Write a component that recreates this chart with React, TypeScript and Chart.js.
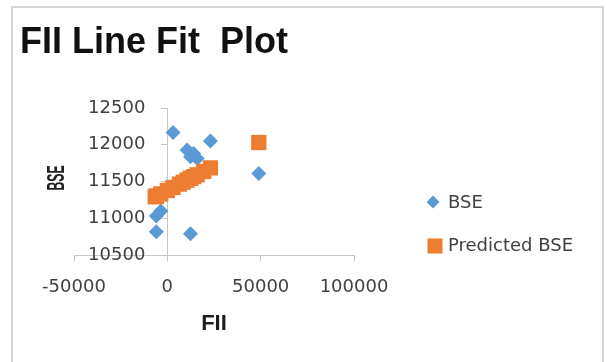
import React, { useEffect, useRef } from 'react';
import { Chart, registerables } from 'chart.js';

Chart.register(...registerables);

const chartTitle = 'FII Line Fit  Plot';
const xAxisTitle = 'FII';
const yAxisTitle = 'BSE';
const seriesNames = ['BSE', 'Predicted BSE'];

const fiiValues = [-6500, -5900, -5900, -3500, 0, 3060, 6500, 8500, 10600, 12400, 12400, 14100, 16000, 19500, 23100, 49000];
const bseValues = [11330, 10817, 11030, 11100, 11400, 12167, 11480, 11520, 11927, 10790, 11836, 11882, 11814, 11640, 12050, 11610];
const predictedBseValues = [11292, 11300, 11300, 11331, 11378, 11419, 11464, 11491, 11519, 11543, 11543, 11566, 11591, 11637, 11685, 12030];

const xTickValues = [-50000, 0, 50000, 100000];
const yTickValues = [10500, 11000, 11500, 12000, 12500];

const BLUE = '#5B9BD5';
const ORANGE = '#ED7D31';
const AXIS = '#c6c6c6';
const LABEL = '#404040';
const TICK_FONT = { family: '"DejaVu Sans", sans-serif', size: 18 };
const Y_LABEL_GAP = 22;

export default function App() {
  const ref = useRef<HTMLCanvasElement>(null);

  useEffect(() => {
    const canvas = ref.current;
    if (!canvas) return;

    const textPlugin = {
      id: 'texts',
      afterDraw(chart: any) {
        const ctx = chart.ctx as CanvasRenderingContext2D;
        ctx.save();
        // chart title
        ctx.fillStyle = '#111111';
        ctx.font = 'bold 36px "Liberation Sans", Arial, sans-serif';
        ctx.textAlign = 'left';
        ctx.textBaseline = 'alphabetic';
        ctx.fillText(chartTitle, 20, 53);

        // y axis title (rotated)
        ctx.save();
        ctx.translate(57, 178);
        ctx.rotate(-Math.PI / 2);
        ctx.scale(0.72, 1.4);
        ctx.font = 'bold 17px "Liberation Sans", Arial, sans-serif';
        ctx.textAlign = 'center';
        ctx.textBaseline = 'middle';
        ctx.fillStyle = '#1f1f1f';
        ctx.fillText(yAxisTitle, 0, 0);
        ctx.restore();

        // legend
        ctx.font = '18px "DejaVu Sans", sans-serif';
        ctx.textAlign = 'left';
        ctx.textBaseline = 'middle';
        const dx = 433, dy = 202, r = 6.5;
        ctx.fillStyle = BLUE;
        ctx.beginPath();
        ctx.moveTo(dx, dy - r);
        ctx.lineTo(dx + r, dy);
        ctx.lineTo(dx, dy + r);
        ctx.lineTo(dx - r, dy);
        ctx.closePath();
        ctx.fill();
        ctx.fillStyle = LABEL;
        ctx.fillText(seriesNames[0], 448, dy + 1);
        const sx = 435, sy = 246, h = 7.5;
        ctx.fillStyle = ORANGE;
        ctx.fillRect(sx - h, sy - h, 2 * h, 2 * h);
        ctx.fillStyle = LABEL;
        ctx.fillText(seriesNames[1], 448, sy);
        ctx.restore();
      },
    };

    const chart = new Chart(canvas, {
      type: 'scatter',
      data: {
        datasets: [
          {
            label: seriesNames[0],
            data: fiiValues.map((x, i) => ({ x, y: bseValues[i] })),
            pointStyle: 'rectRot',
            pointRadius: 7.5,
            pointHoverRadius: 7.5,
            backgroundColor: BLUE,
            borderColor: BLUE,
            borderWidth: 0,
            order: 1,
          },
          {
            label: seriesNames[1],
            data: fiiValues.map((x, i) => ({ x, y: predictedBseValues[i] })),
            pointStyle: 'rect',
            pointRadius: 10.8,
            pointHoverRadius: 10.8,
            backgroundColor: ORANGE,
            borderColor: ORANGE,
            borderWidth: 0,
            order: 0,
          },
        ],
      },
      options: {
        responsive: false,
        animation: false,
        devicePixelRatio: 1,
        layout: { padding: { left: 74, right: 253, top: 108, bottom: 0 } },
        plugins: {
          legend: { display: false },
          title: { display: false },
          tooltip: { enabled: false },
        },
        scales: {
          x: {
            type: 'linear',
            position: 'bottom',
            min: xTickValues[0],
            max: xTickValues[xTickValues.length - 1],
            afterBuildTicks: (s: any) => {
              s.ticks = xTickValues.map((v) => ({ value: v }));
            },
            afterFit: (s: any) => {
              s.height = 107;
            },
            ticks: {
              callback: (v: any) => String(v),
              font: TICK_FONT,
              color: LABEL,
              padding: 16,
              maxRotation: 0,
              autoSkip: false,
            },
            grid: { drawOnChartArea: false, drawTicks: true, tickLength: 6, color: AXIS },
            border: { display: true, color: AXIS, width: 1 },
            title: {
              display: true,
              text: xAxisTitle,
              color: '#1f1f1f',
              font: { family: '"Liberation Sans", Arial, sans-serif', size: 22, weight: 'bold' },
              padding: { top: 0, bottom: 25 },
            },
          },
          y: {
            type: 'linear',
            position: { x: 0 },
            min: yTickValues[0],
            max: yTickValues[yTickValues.length - 1],
            afterBuildTicks: (s: any) => {
              s.ticks = yTickValues.map((v) => ({ value: v }));
            },
            afterUpdate: (s: any) => {
              if (s.__shifted) return;
              s.__shifted = true;
              const orig = s._computeLabelItems;
              s._computeLabelItems = function (area: any) {
                const items = orig.call(this, area);
                items.forEach((it: any) => {
                  if (it.options && it.options.translation) it.options.translation[0] -= Y_LABEL_GAP;
                });
                return items;
              };
            },
            ticks: {
              callback: (v: any) => String(v),
              font: TICK_FONT,
              color: LABEL,
              padding: 16,
              autoSkip: false,
            },
            grid: { drawOnChartArea: false, drawTicks: true, tickLength: 6, color: AXIS },
            border: { display: true, color: AXIS, width: 1 },
          },
        },
      } as any,
      plugins: [textPlugin],
    });

    return () => chart.destroy();
  }, []);

  return (
    <div
      style={{
        position: 'fixed',
        left: 0,
        top: 0,
        width: 607,
        height: 362,
        overflow: 'hidden',
        background: '#ffffff',
      }}
    >
      <div
        style={{
          position: 'absolute',
          left: 11,
          top: 6,
          width: 593,
          height: 420,
          boxSizing: 'border-box',
          border: '2px solid #d6d6d6',
        }}
      />
      <canvas ref={ref} width={607} height={362} style={{ position: 'absolute', left: 0, top: 0 }} />
    </div>
  );
}
